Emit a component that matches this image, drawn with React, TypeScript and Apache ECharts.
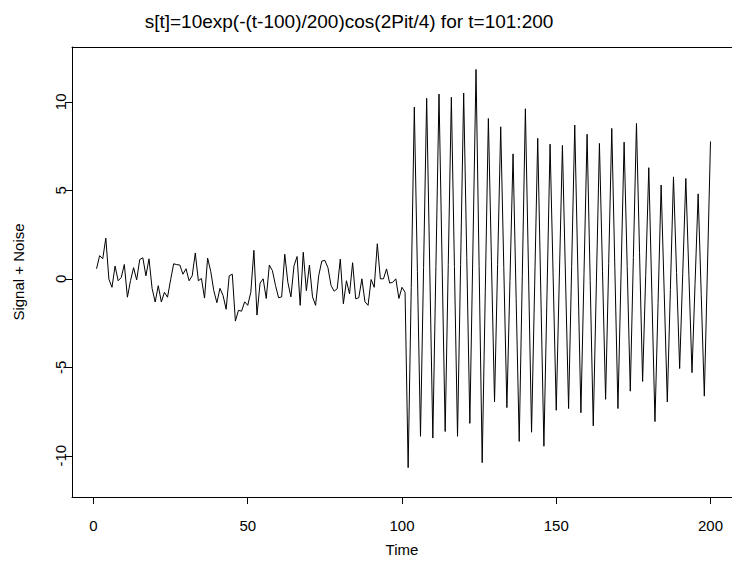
import React, { useEffect, useRef } from "react";
import * as echarts from "echarts";

const titleText = "s[t]=10exp(-(t-100)/200)cos(2Pit/4) for t=101:200";
const xTicks = [0, 50, 100, 150, 200];
const yTicks = [-10, -5, 0, 5, 10];

// t = 1..100 (noise only)
const noiseValues = [
  0.57, 1.31, 1.13, 2.3, -0.02, -0.48, 0.72, -0.11, 0.07, 0.81,
  -1.04, -0.11, 0.63, -0.06, 1.09, 1.19, 0.17, 1.13, -0.54, -1.31,
  -0.39, -1.31, -0.76, -1.04, -0.06, 0.85, 0.8, 0.78, 0.26, 0.57,
  -0.11, 0.17, 1.46, -0.11, 0.02, -1.09, 1.17, 0.43, -0.67, -1.35,
  -0.54, -0.94, -1.72, 0.17, 0.26, -2.39, -1.78, -1.83, -1.3, -1.5,
  -0.76, 1.61, -2.05, -0.24, 0.0, -1.11, 0.78, 0.46, -0.37, -1.07,
  -1.02, 1.39, -0.19, -1.02, 0.74, 1.26, -1.5, 1.5, -0.67, 0.78,
  -1.02, -1.5, 0.17, 1.0, 1.04, 0.63, -0.37, -0.7, -0.56, 1.11,
  -1.41, -0.11, -0.85, 0.91, -1.13, -1.07, 0.0, -1.3, -1.5, -0.04,
  -0.48, 1.98, 0.0, 0.0, 0.56, -0.24, -0.2, 0.0, -1.11, -0.48,
];

// t = 101..200 (signal + noise)
const signalValues = [
  -0.76, -10.67, -0.5, 9.7, 0.4, -8.9, 0.65, 10.2, 0.6, -9.0,
  0.7, 10.44, 0.9, -8.63, 0.8, 10.26, 0.7, -8.9, 0.8, 10.5,
  1.2, -8.17, 1.8, 11.83, 0.7, -10.39, -0.7, 9.06, 1.0, -6.96,
  0.8, 8.59, 0.65, -7.28, -0.1, 7.06, -1.1, -9.19, 0.2, 9.61,
  0.5, -8.67, -0.4, 7.94, -0.8, -9.46, -0.9, 7.61, 0.1, -7.43,
  0.05, 7.54, 0.1, -7.33, 0.7, 8.69, 0.55, -7.57, 0.3, 8.17,
  -0.1, -8.31, -0.3, 7.65, 0.4, -6.81, 0.85, 8.5, 0.6, -7.33,
  0.2, 7.72, 0.7, -6.35, 1.2, 8.78, 1.5, -5.8, 0.2, 6.28,
  -0.9, -8.07, -1.4, 5.3, -0.8, -6.96, -0.6, 5.76, 0.35, -5.07,
  0.3, 5.67, 0.2, -5.3, -0.25, 4.8, -0.9, -6.63, 0.55, 7.76,
];

const FONT = "'Liberation Sans', Arial, Helvetica, sans-serif";

export default function App() {
  const ref = useRef<HTMLDivElement>(null);
  useEffect(() => {
    if (!ref.current) return;
    const chart = echarts.init(ref.current, undefined, { renderer: "svg" });
    const values = [...noiseValues, ...signalValues];
    const data = values.map((v, i) => [i + 1, v]);
    chart.setOption({
      animation: false,
      backgroundColor: "#ffffff",
      textStyle: { fontFamily: FONT },
      graphic: [
        {
          type: "text",
          x: 349,
          y: 21,
          style: {
            text: titleText,
            fontFamily: FONT,
            fontSize: 19,
            fill: "#000",
            textAlign: "center",
            textVerticalAlign: "middle",
          },
        },
      ],
      grid: { left: 72, right: 0, top: 47, bottom: 57, show: false },
      xAxis: [
        {
          type: "value",
          min: -6.96,
          max: 206.97,
          name: "Time",
          nameLocation: "middle",
          nameGap: 45,
          nameTextStyle: { fontSize: 15, color: "#000", fontFamily: FONT },
          axisLine: { show: true, onZero: false, lineStyle: { color: "#000", width: 1 } },
          axisTick: {
            show: true,
            inside: false,
            length: 7,
            customValues: xTicks,
            lineStyle: { color: "#000" },
          },
          axisLabel: {
            customValues: xTicks,
            fontSize: 15,
            color: "#000",
            margin: 21,
            fontFamily: FONT,
          },
          splitLine: { show: false },
        },
        {
          type: "value",
          position: "top",
          min: -6.96,
          max: 206.97,
          axisLine: { show: true, onZero: false, lineStyle: { color: "#000", width: 1 } },
          axisTick: { show: false },
          axisLabel: { show: false },
          splitLine: { show: false },
        },
      ],
      yAxis: {
        type: "value",
        min: -12.33,
        max: 13.1,
        name: "Signal + Noise",
        nameLocation: "middle",
        nameGap: 46,
        nameTextStyle: { fontSize: 15, color: "#000", fontFamily: FONT },
        axisLine: { show: true, onZero: false, lineStyle: { color: "#000", width: 1 } },
        axisTick: {
          show: true,
          length: 7,
          customValues: yTicks,
          lineStyle: { color: "#000" },
        },
        axisLabel: {
          customValues: yTicks,
          rotate: 90,
          fontSize: 15,
          color: "#000",
          margin: 4,
          fontFamily: FONT,
        },
        splitLine: { show: false },
      },
      series: [
        {
          type: "line",
          data,
          xAxisIndex: 0,
          showSymbol: false,
          symbol: "none",
          lineStyle: { color: "#000", width: 1 },
          silent: true,
        },
      ],
    });
    return () => chart.dispose();
  }, []);
  return (
    <div
      ref={ref}
      style={{ position: "fixed", left: 0, top: 0, width: 732, height: 562 }}
    />
  );
}
